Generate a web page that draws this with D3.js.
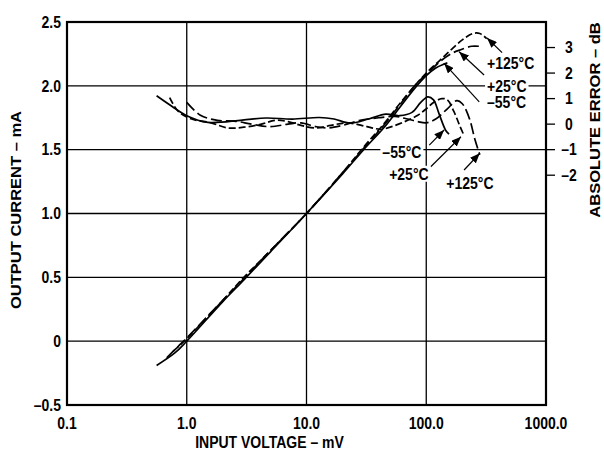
<!DOCTYPE html>
<html lang="en">
<head>
	<meta charset="UTF-8">
	<title>Output current and absolute error vs input voltage</title>
	<script src="https://d3js.org/d3.v7.min.js"></script>
	<style>
		body { margin: 0; background: #fff; }
		svg text {
			font-family: "Liberation Sans", Arial, sans-serif;
			font-weight: bold;
			font-size: 14px;
			fill: #000;
		}
	</style>
</head>
<body>
<div id="chart"></div>
<script>

	// x axis ticks (mV) and labels
	var xTicks = [0.1, 1, 10, 100, 1000];
	var xTickLabels = ["0.1", "1.0", "10.0", "100.0", "1000.0"];
	// left axis (mA)
	var yTicks = [-0.5, 0, 0.5, 1.0, 1.5, 2.0, 2.5];
	var yTickLabels = ["–0.5", "0", "0.5", "1.0", "1.5", "2.0", "2.5"];
	// right axis (dB)
	var dbTicks = [-2, -1, 0, 1, 2, 3];
	var dbTickLabels = ["–2", "–1", "0", "1", "2", "3"];

	// output current, [mV, mA]
	var currentM55 = [[0.56, -0.19], [0.8, -0.09], [1, 0.0], [2, 0.31], [3, 0.48], [5, 0.7], [10, 1.0], [20, 1.31], [30, 1.5], [45, 1.68], [60, 1.83], [80, 1.98], [100, 2.08], [120, 2.14], [140, 2.17], [150, 2.18]];
	var current25 = [[0.68, -0.13], [0.85, -0.04], [1, 0.025], [2, 0.32], [3, 0.49], [5, 0.71], [10, 1.0], [20, 1.32], [30, 1.51], [45, 1.7], [60, 1.85], [80, 2.0], [100, 2.09], [130, 2.19], [160, 2.25], [190, 2.28], [240, 2.31], [275, 2.31]];
	var current125 = [[0.77, -0.08], [1, 0.02], [2, 0.32], [3, 0.5], [5, 0.71], [10, 1.0], [20, 1.32], [30, 1.52], [45, 1.71], [60, 1.86], [80, 2.0], [100, 2.1], [130, 2.2], [160, 2.28], [200, 2.36], [245, 2.41], [280, 2.41], [320, 2.37]];

	// absolute error, [mV, dB]
	var errorM55 = [[0.56, 1.11], [0.75, 0.7], [1.0, 0.33], [1.5, 0.07], [2.9, 0.16], [4.6, 0.24], [7.6, 0.2], [12.8, 0.26], [17, 0.2], [23, 0.04], [33, 0.2], [46, 0.39], [60, 0.33], [76, 0.46], [90, 0.85], [103, 1.07], [115, 0.95], [128, 0.4], [146, -0.26], [155, -0.39]];
	var error25 = [[0.72, 1.04], [0.85, 0.5], [1.1, 0.2], [1.6, 0.05], [2.2, -0.15], [3, -0.12], [4.2, 0.0], [5.5, 0.15], [7, 0.1], [9, -0.05], [12, -0.15], [16, -0.05], [22, 0.05], [32, -0.1], [42, -0.2], [55, -0.05], [70, 0.15], [85, 0.35], [100, 0.6], [115, 0.85], [135, 1.0], [150, 0.95], [170, 0.5], [190, -0.05], [207, -0.45]];
	var error125 = [[1.0, 0.85], [1.3, 0.35], [1.8, 0.15], [2.5, 0.12], [3.5, 0.0], [5, -0.1], [7, 0.0], [9, 0.05], [12, -0.1], [15, -0.15], [20, -0.05], [28, 0.15], [40, 0.25], [55, 0.3], [70, 0.2], [85, 0.1], [100, 0.05], [120, 0.2], [150, 0.6], [180, 0.92], [200, 0.8], [230, 0.2], [255, -0.6], [280, -1.2]];

	// annotations: text, label position [mV, mA], arrow from -> to [mV, mA]
	var labelText = ["+125°C", "+25°C", "–55°C", "–55°C", "+25°C", "+125°C"];
	var labelPos = [[322, 2.18], [322, 2.0], [322, 1.87], [43, 1.48], [49, 1.31], [147, 1.24]];
	var arrowFrom = [[430, 2.26], [304, 2.085], [277, 1.875], [106, 1.536], [109, 1.366], [207, 1.341]];
	var arrowTo = [[322, 2.375], [188, 2.267], [141, 2.176], [141, 1.654], [195, 1.601], [280, 1.472]];

	var W = 604, H = 452;
	var mLeft = 67, mRight = 546, mTop = 22, mBottom = 405;
	// the lettering in the original is drawn a bit taller than wide
	var stretch = "scale(1,1.18)";

	var svg = d3.select("#chart").append("svg")
		.attr("width", W)
		.attr("height", H);

	var x = d3.scaleLog().domain([0.1, 1000]).range([mLeft, mRight]);
	var y = d3.scaleLinear().domain([-0.5, 2.5]).range([mBottom, mTop]);
	// -1 dB sits on 1.5 mA, 0.2 mA per dB
	var yDb = d3.scaleLinear().domain([-11, 4]).range([mBottom, mTop]);

	// grid
	var grid = svg.append("g").attr("stroke", "#000").attr("stroke-width", 1.3);
	grid.selectAll("line.v")
		.data(xTicks.slice(1, -1))
		.enter().append("line")
		.attr("x1", function (d) { return x(d); })
		.attr("x2", function (d) { return x(d); })
		.attr("y1", mTop)
		.attr("y2", mBottom);
	grid.selectAll("line.h")
		.data(yTicks.slice(1, -1))
		.enter().append("line")
		.attr("x1", mLeft)
		.attr("x2", mRight)
		.attr("y1", function (d) { return y(d); })
		.attr("y2", function (d) { return y(d); });

	// right axis ticks
	svg.append("g").selectAll("line")
		.data(dbTicks)
		.enter().append("line")
		.attr("stroke", "#000")
		.attr("stroke-width", 1.3)
		.attr("x1", mRight)
		.attr("x2", mRight + 9)
		.attr("y1", function (d) { return yDb(d); })
		.attr("y2", function (d) { return yDb(d); });

	// curves
	var line = function (sy) {
		return d3.line()
			.x(function (d) { return x(d[0]); })
			.y(function (d) { return sy(d[1]); })
			.curve(d3.curveCatmullRom.alpha(0.5));
	};

	var series = [
		{ data: currentM55, sy: y, dash: null },
		{ data: current25, sy: y, dash: "11,4" },
		{ data: current125, sy: y, dash: "7,3" },
		{ data: errorM55, sy: yDb, dash: null },
		{ data: error25, sy: yDb, dash: "7,3" },
		{ data: error125, sy: yDb, dash: "11,4" }
	];

	var curves = svg.append("g").attr("fill", "none").attr("stroke", "#000").attr("stroke-width", 1.7);
	series.forEach(function (s) {
		curves.append("path")
			.attr("d", line(s.sy)(s.data))
			.attr("stroke-dasharray", s.dash);
	});

	// frame
	svg.append("rect")
		.attr("x", mLeft)
		.attr("y", mTop)
		.attr("width", mRight - mLeft)
		.attr("height", mBottom - mTop)
		.attr("fill", "none")
		.attr("stroke", "#000")
		.attr("stroke-width", 2.2);

	// tick labels
	svg.append("g").selectAll("text")
		.data(xTicks)
		.enter().append("text")
		.attr("transform", function (d) { return "translate(" + x(d) + ",423) " + stretch; })
		.attr("dy", "0.35em")
		.attr("text-anchor", "middle")
		.text(function (d, i) { return xTickLabels[i]; });

	svg.append("g").selectAll("text")
		.data(yTicks)
		.enter().append("text")
		.attr("transform", function (d) { return "translate(" + (mLeft - 6) + "," + y(d) + ") " + stretch; })
		.attr("dy", "0.35em")
		.attr("text-anchor", "end")
		.text(function (d, i) { return yTickLabels[i]; });

	svg.append("g").selectAll("text")
		.data(dbTicks)
		.enter().append("text")
		.attr("transform", function (d) { return "translate(" + (mRight + 23) + "," + yDb(d) + ") " + stretch; })
		.attr("dy", "0.35em")
		.attr("text-anchor", "middle")
		.text(function (d, i) { return dbTickLabels[i]; });

	// axis titles
	svg.append("text")
		.attr("transform", "translate(" + ((mLeft + mRight) / 2 - 37) + ",442) " + stretch)
		.attr("dy", "0.35em")
		.attr("text-anchor", "middle")
		.text("INPUT VOLTAGE – mV");

	svg.append("text")
		.attr("transform", "translate(16,210) " + stretch + " rotate(-90)")
		.attr("dy", "0.35em")
		.attr("text-anchor", "middle")
		.text("OUTPUT CURRENT – mA");

	svg.append("text")
		.attr("transform", "translate(595,120) " + stretch + " rotate(-90)")
		.attr("dy", "0.35em")
		.attr("text-anchor", "middle")
		.text("ABSOLUTE ERROR – dB");

	// arrows
	svg.append("defs").append("marker")
		.attr("id", "head")
		.attr("viewBox", "0 0 10 8")
		.attr("refX", 10)
		.attr("refY", 4)
		.attr("markerWidth", 10)
		.attr("markerHeight", 8)
		.attr("markerUnits", "userSpaceOnUse")
		.attr("orient", "auto")
		.append("path")
		.attr("d", "M0,0L10,4L0,8Z")
		.attr("fill", "#000");

	svg.append("g").selectAll("line")
		.data(arrowFrom)
		.enter().append("line")
		.attr("stroke", "#000")
		.attr("stroke-width", 1.2)
		.attr("x1", function (d) { return x(d[0]); })
		.attr("y1", function (d) { return y(d[1]); })
		.attr("x2", function (d, i) { return x(arrowTo[i][0]); })
		.attr("y2", function (d, i) { return y(arrowTo[i][1]); })
		.attr("marker-end", "url(#head)");

	// labels on white boxes
	var labels = svg.append("g");
	labelText.forEach(function (t, i) {
		var g = labels.append("g")
			.attr("transform", "translate(" + x(labelPos[i][0]) + "," + y(labelPos[i][1]) + ") " + stretch);
		var bg = g.append("rect").attr("fill", "#fff");
		var txt = g.append("text")
			.attr("dy", "0.35em")
			.text(t);
		var b = txt.node().getBBox();
		bg.attr("x", b.x - 2).attr("y", b.y + 1).attr("width", b.width + 4).attr("height", b.height - 2);
	});

</script>
</body>
</html>
